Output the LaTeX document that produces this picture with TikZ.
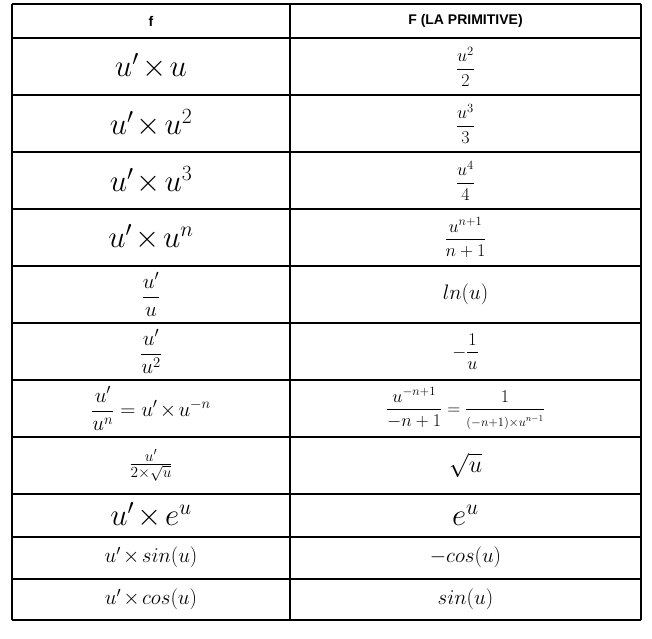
\RequirePackage{fix-cm}
\documentclass[tikz,border=0pt]{standalone}
\usepackage{amsmath}
\usepackage{fontspec}
\newfontfamily\headfont{Liberation Sans}

\def \colleft {12}
\def \colmid {290}
\def \colright {641}
\def \xf {151}
\def \xF {465.5}
\newcommand{\fsz}[1]{\fontsize{#1}{#1}\selectfont}
\newcommand{\mul}{\mkern2mu{\times}\mkern2mu}
\tikzstyle{cell}=[inner sep=0pt, anchor=center]
\tikzstyle{head}=[cell, font=\headfont\bfseries\fsz{14}]
\tikzstyle{big}=[cell, font=\fsz{31}]
\tikzstyle{mid}=[cell, font=\fsz{21}]
\tikzstyle{small}=[cell, font=\fsz{18}]

\begin{document}
\begin{tikzpicture}[x=1pt, y=1pt, line width=1.2pt]

\useasboundingbox (0,0) rectangle (652,-638);

% grid
\foreach \y in {4, 38, 95, 152, 209, 266, 323, 380, 437, 494, 537, 579, 620}
    \draw (\colleft, -\y) -- (\colright, -\y);
\foreach \x in {\colleft, \colmid, \colright}
    \draw (\x, -4) -- (\x, -620);

% header
\node[head] (fH) at (\xf, -21) {f};
\node[head] (FH) at (\xF, -21) {F (LA PRIMITIVE)};

% f
\node[big] (f1) at (\xf, -66.5) {$u'\mul u$};
\node[big] (f2) at (\xf, -123.5) {$u'\mul u^2$};
\node[big] (f3) at (\xf, -180.5) {$u'\mul u^3$};
\node[big] (f4) at (\xf, -237.5) {$u'\mul u^n$};
\node[mid] (f5) at (\xf, -294.5) {$\dfrac{u'}{u}$};
\node[mid] (f6) at (\xf, -351.5) {$\dfrac{u'}{u^2}$};
\node[mid] (f7) at (\xf, -408.5) {$\dfrac{u'}{u^n}=u'\mul u^{-n}$};
\node[cell, font=\fsz{22}] (f8) at (\xf, -465.5) {$\frac{u'}{2\times\sqrt{u}}$};
\node[big] (f9) at (\xf, -515.5) {$u'\mul e^u$};
\node[mid] (f10) at (\xf, -557.5) {$u'\mul sin(u)$};
\node[mid] (f11) at (\xf, -599.5) {$u'\mul cos(u)$};

% F
\node[small] (F1) at (\xF, -66.5) {$\dfrac{u^2}{2}$};
\node[small] (F2) at (\xF, -123.5) {$\dfrac{u^3}{3}$};
\node[small] (F3) at (\xF, -180.5) {$\dfrac{u^4}{4}$};
\node[small] (F4) at (\xF, -237.5) {$\dfrac{u^{n+1}}{n+1}$};
\node[mid] (F5) at (\xF, -294.5) {$ln(u)$};
\node[small] (F6) at (\xF, -351.5) {$-\dfrac{1}{u}$};
\node[small] (F7) at (\xF, -408.5) {$\dfrac{u^{-n+1}}{-n+1}=\dfrac{1}{\scriptstyle(-n+1)\times u^{n-1}}$};
\node[cell, font=\fsz{24}] (F8) at (\xF, -465.5) {$\sqrt{u}$};
\node[big] (F9) at (\xF, -515.5) {$e^u$};
\node[mid] (F10) at (\xF, -557.5) {$-cos(u)$};
\node[mid] (F11) at (\xF, -599.5) {$sin(u)$};

\end{tikzpicture}
\end{document}
